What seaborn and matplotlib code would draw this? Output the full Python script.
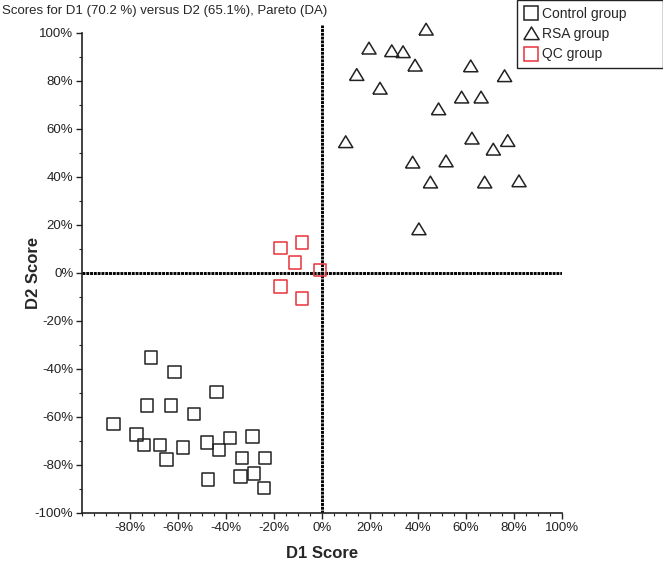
import numpy as np
import pandas as pd
import seaborn as sns
import matplotlib.pyplot as plt
from matplotlib.lines import Line2D
from matplotlib.ticker import MultipleLocator

# score values (%)
control_x = [-71.1, -61.4, -43.8, -72.7, -62.8, -53.2, -86.7, -77.1, -74.0, -67.4, -64.6,
             -57.7, -47.9, -42.8, -38.1, -47.4, -33.3, -33.8, -28.8, -28.3, -23.6, -24.0]
control_y = [-35.3, -41.5, -49.7, -55.3, -55.3, -58.9, -63.0, -67.5, -71.8, -71.8, -77.8,
             -72.8, -70.7, -73.9, -68.8, -86.1, -77.1, -85.0, -68.3, -83.6, -77.3, -89.8]

rsa_x = [43.5, 19.7, 29.2, 33.9, 38.9, 62.1, 14.6, 76.2, 24.3, 58.3, 66.4,
         48.7, 10.0, 62.6, 77.5, 71.5, 37.9, 51.8, 45.3, 67.9, 82.2, 40.5]
rsa_y = [101.4, 93.5, 92.4, 92.0, 86.4, 86.1, 82.5, 82.0, 76.8, 73.1, 73.1,
         68.2, 54.5, 56.0, 55.0, 51.4, 46.0, 46.5, 37.7, 37.7, 38.2, 18.2]

qc_x = [-17.1, -8.1, -11.1, -0.6, -17.1, -8.1]
qc_y = [10.4, 12.5, 4.3, 1.1, -5.8, -10.8]

groups = ['Control group', 'RSA group', 'QC group']
x_ticks = [-80, -60, -40, -20, 0, 20, 40, 60, 80, 100]
y_ticks = [-100, -80, -60, -40, -20, 0, 20, 40, 60, 80, 100]

df = pd.DataFrame({
    'D1': control_x + rsa_x + qc_x,
    'D2': control_y + rsa_y + qc_y,
    'group': ['Control group'] * len(control_x) + ['RSA group'] * len(rsa_x) + ['QC group'] * len(qc_x),
})

sns.set_style('ticks')
plt.rcParams['font.family'] = ['Liberation Sans', 'DejaVu Sans']

palette = {'Control group': '#222222', 'RSA group': '#222222', 'QC group': '#e8323a'}
# triangle a bit wider than tall, like the original
tri = [(-1, -0.8), (1, -0.8), (0, 0.85), (-1, -0.8)]
markers = {'Control group': 's', 'RSA group': tri, 'QC group': 's'}
sizes = {'Control group': 80, 'RSA group': 105, 'QC group': 80}

fig = plt.figure(figsize=(6.63, 5.64), dpi=100)
ax = fig.add_axes([0.1232, 0.091, 0.724, 0.8638])

# crosshair at zero
ax.axhline(0, color='black', lw=2.1, ls=(0, (1, 0.3)), zorder=1)
ax.axvline(0, color='black', lw=2.1, ls=(0, (1, 0.3)), zorder=1)

sns.scatterplot(data=df, x='D1', y='D2', hue='group', style='group', size='group',
                palette=palette, markers=markers, sizes=sizes, linewidth=1.1,
                legend=False, ax=ax, zorder=3, clip_on=False)

# hollow markers: move the fill colour to the edge
for coll in ax.collections:
    fc = coll.get_facecolors()
    coll.set_edgecolors(fc)
    coll.set_facecolors('none')

ax.set_xlim(-100, 100)
ax.set_ylim(-100, 103)
ax.set_xticks(x_ticks)
ax.set_xticklabels([f'{v}%' for v in x_ticks])
ax.set_yticks(y_ticks)
ax.set_yticklabels([f'{v}%' for v in y_ticks])
ax.xaxis.set_minor_locator(MultipleLocator(5))
ax.yaxis.set_minor_locator(MultipleLocator(10))
ax.tick_params(which='major', length=4, width=1, labelsize=9.5, colors='#222222', pad=2)
ax.tick_params(which='minor', length=2, width=0.8, colors='#222222')
ax.tick_params(axis='x', pad=3)

sns.despine(ax=ax)
ax.spines['left'].set_bounds(-100, 100)
for side in ['left', 'bottom']:
    ax.spines[side].set_linewidth(1.2)
    ax.spines[side].set_color('#222222')
ax.set_xlabel('')
ax.set_ylabel('')

fig.text(0.003, 0.992, 'Scores for D1 (70.2 %) versus D2 (65.1%), Pareto (DA)',
         ha='left', va='top', fontsize=9.5)
fig.text(0.05, 0.516, 'D2 Score', rotation=90, ha='center', va='center',
         fontsize=12, fontweight='bold')
fig.text(0.4857, 0.018, 'D1 Score', ha='center', va='center',
         fontsize=12, fontweight='bold')

handles = [Line2D([], [], ls='none', marker=markers[g], markersize=9.5 if g != 'RSA group' else 11,
                  markerfacecolor='none', markeredgecolor=palette[g], markeredgewidth=1.1)
           for g in groups]
leg = fig.legend(handles, groups, loc='upper left',
                 bbox_to_anchor=(517 / 663, 0.0, 146 / 663, 1.0), mode='expand',
                 frameon=True, fancybox=False, edgecolor='#222222', framealpha=1,
                 borderaxespad=0, handletextpad=0.3, handlelength=1.0,
                 labelspacing=0.45, borderpad=0.5, fontsize=10)
leg.get_frame().set_linewidth(1.0)

fig.savefig('out.png', dpi=100)
